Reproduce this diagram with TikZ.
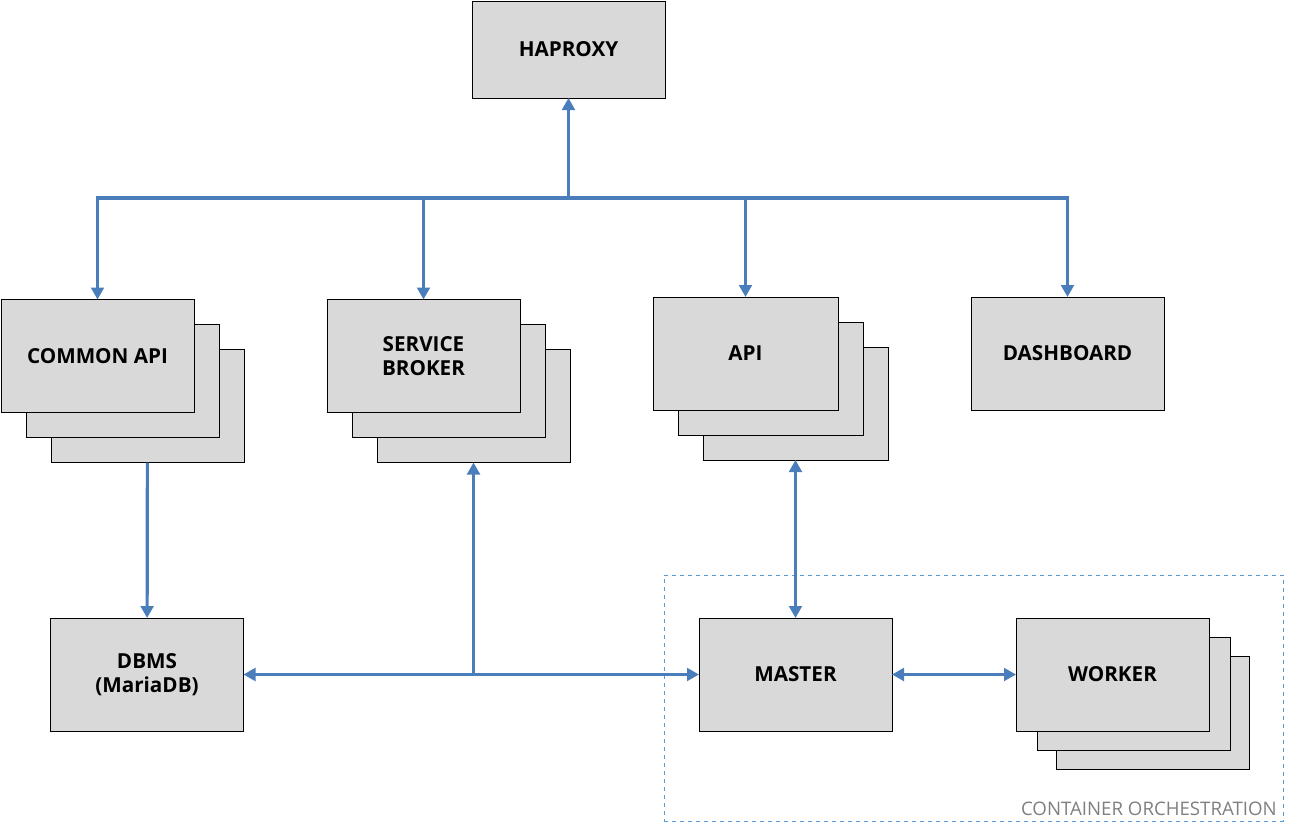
\documentclass[tikz,border=0pt]{standalone}
\usepackage{fontspec}
\setmainfont{Open Sans}
\usetikzlibrary{arrows.meta}
\definecolor{linkblue}{HTML}{4A7EBB}
\definecolor{boxgray}{HTML}{D9D9D9}
\definecolor{dashblue}{HTML}{5B9BD5}
\definecolor{labelgray}{HTML}{7F7F7F}

\begin{document}
\begin{tikzpicture}[x=0.75pt,y=-0.75pt,
  box/.style={rectangle,draw=black,fill=boxgray,line width=0.75pt,inner sep=0pt,outer sep=0pt,
    minimum width=144.75pt,minimum height=84.75pt,align=center,
    font=\fontsize{15.5}{18.5}\selectfont\bfseries},
  link/.style={draw=linkblue,line width=2.4pt},
  tip/.style={link,-{Triangle[length=9pt,width=9.5pt]}},
  tips/.style={link,{Triangle[length=9pt,width=9.5pt]}-{Triangle[length=9pt,width=9.5pt]}}]
\useasboundingbox (0,0) rectangle (1302,829);

\node[draw=dashblue,dashed,line width=0.75pt,minimum width=464.25pt,minimum height=184.5pt,inner sep=0pt] at (973.5,698) (orch) {};
\node[anchor=south east,text=labelgray,inner sep=0pt,font=\fontsize{14}{16}\selectfont] at (1277,816) (orchlabel) {CONTAINER ORCHESTRATION};

\node[box,minimum height=72.75pt] at (568.5,49.5) (hap) {HAPROXY};

\node[box] at (147.5,406) (ca3) {};
\node[box] at (122.5,381) (ca2) {};
\node[box] at (97.5,356) (ca) {COMMON API};

\node[box] at (473.5,406) (sb3) {};
\node[box] at (448.5,381) (sb2) {};
\node[box] at (423.5,356) (sb) {SERVICE\\BROKER};

\node[box,minimum width=138.75pt] at (795.5,403.5) (api3) {};
\node[box,minimum width=138.75pt] at (770.5,378.5) (api2) {};
\node[box,minimum width=138.75pt] at (745.5,353.5) (api) {API};

\node[box] at (1067.5,353.5) (dash) {DASHBOARD};

\node[box] at (147,674.5) (dbms) {DBMS\\(MariaDB)};
\node[box] at (795.5,674.5) (master) {MASTER};

\node[box] at (1152.5,712.5) (wk3) {};
\node[box] at (1133.5,693.5) (wk2) {};
\node[box] at (1112.5,674.5) (wk) {WORKER};

\coordinate (hub) at (568.5,198);
\coordinate (join) at (473.5,674.5);

\draw[tip] (hub) -- (hap);
\draw[tip] (hub) -| (ca);
\draw[tip] (hub) -| (sb);
\draw[tip] (hub) -| (api);
\draw[tip] (hub) -| (dash);

\draw[tip] (ca3) -- (dbms);
\draw[tips] (dbms) -- (master);
\draw[tip] (join) -- (sb3);
\draw[tips] (api3) -- (master);
\draw[tips] (master) -- (wk);
\end{tikzpicture}
\end{document}
